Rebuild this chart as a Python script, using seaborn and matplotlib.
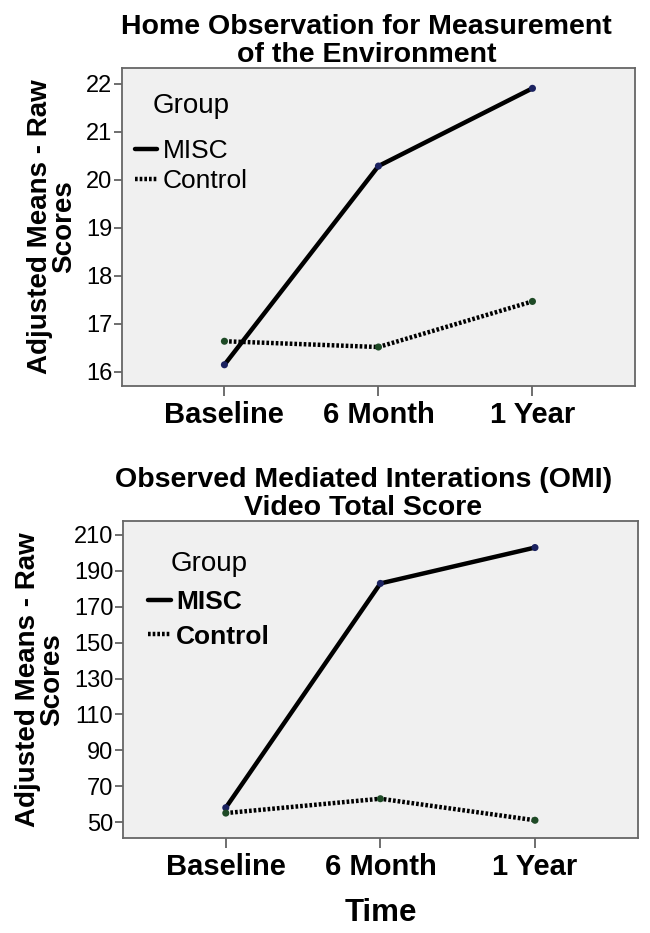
import pandas as pd
import matplotlib
matplotlib.use("Agg")
import matplotlib.pyplot as plt
import seaborn as sns

# ==========================================
#   DATA
# ==========================================
time_points = ["Baseline", "6 Month", "1 Year"]
groups = ["MISC", "Control"]

home_misc = [16.15, 20.29, 21.91]
home_control = [16.64, 16.52, 17.47]

omi_misc = [58, 183, 203]
omi_control = [55, 63, 51]

home_title = "Home Observation for Measurement\nof the Environment"
omi_title = "Observed Mediated Interations (OMI)\nVideo Total Score"
home_yticks = [16, 17, 18, 19, 20, 21, 22]
omi_yticks = [50, 70, 90, 110, 130, 150, 170, 190, 210]

# ==========================================
#   STYLE
# ==========================================
sns.set_style("ticks")
plt.rcParams["font.family"] = ["Liberation Sans", "DejaVu Sans"]
plt.rcParams["text.color"] = "black"
plt.rcParams["axes.labelcolor"] = "black"
plt.rcParams["xtick.color"] = "black"
plt.rcParams["ytick.color"] = "black"

LINE_COLORS = {"MISC": "black", "Control": "black"}
DOT_COLORS = {"MISC": "#1b2260", "Control": "#1e4a26"}
DASHES = {"MISC": "", "Control": (0.6, 0.45)}


def make_df(misc, control):
    rows = []
    for g, vals in zip(groups, [misc, control]):
        for t, v in zip(time_points, vals):
            rows.append({"Time": t, "Group": g, "Value": v})
    return pd.DataFrame(rows)


def draw_panel(ax, df, title, yticks, ylim, title_x, leg_anchor, leg_spacing,
               title_sep, bold_legend, show_xlabel):
    ax.set_facecolor("#f0f0f0")
    sns.lineplot(data=df, x="Time", y="Value", hue="Group", style="Group",
                 palette=LINE_COLORS, dashes=DASHES, linewidth=3.2,
                 sort=False, ax=ax)
    for line in ax.get_lines():
        line.set_dash_capstyle("butt")
    sns.scatterplot(data=df, x="Time", y="Value", hue="Group",
                    palette=DOT_COLORS, s=26, zorder=5, legend=False,
                    edgecolor="none", ax=ax)

    ax.set_xlim(-0.665, 2.665)
    ax.set_ylim(*ylim)
    ax.set_yticks(yticks)
    ax.set_yticklabels([str(v) for v in yticks], fontsize=17)
    ax.set_xticks(range(len(time_points)))
    ax.set_xticklabels(time_points, fontsize=21, fontweight="bold")
    ax.tick_params(axis="x", length=7, width=1.2, color="#555555", pad=4)
    ax.tick_params(axis="y", length=6, width=1.2, color="#555555", pad=1)

    for sp in ax.spines.values():
        sp.set_visible(True)
        sp.set_color("#666666")
        sp.set_linewidth(1.3)

    ax.set_title(title, fontsize=20.5, fontweight="bold", x=title_x, pad=2,
                 linespacing=1.1)
    ax.set_ylabel("Adjusted Means - Raw\nScores", fontsize=20, fontweight="bold",
                  linespacing=0.93, labelpad=6)
    if show_xlabel:
        ax.set_xlabel("Time", fontsize=22.5, fontweight="bold", labelpad=12)
    else:
        ax.set_xlabel("")

    leg = ax.legend(title="Group", loc="upper left", bbox_to_anchor=leg_anchor,
                    frameon=False, fontsize=19, title_fontsize=20,
                    handlelength=0.85, handletextpad=0.2,
                    labelspacing=leg_spacing, borderpad=0, borderaxespad=0)
    leg._legend_box.align = "center"
    leg._legend_box.sep = title_sep
    for txt in leg.get_texts():
        if bold_legend:
            txt.set_fontweight("bold")
    for line in leg.get_lines():
        line.set_linewidth(3.2)
        line.set_dash_capstyle("butt")


fig = plt.figure(figsize=(6.5, 9.33), dpi=100)
ax1 = fig.add_axes([0.1877, 0.5863, 0.789, 0.3408])
ax2 = fig.add_axes([0.1892, 0.1018, 0.792, 0.3398])

draw_panel(ax1, make_df(home_misc, home_control), home_title, home_yticks,
           (15.708, 22.333), 0.477, (0.025, 0.922), 0.24, 14.5, False, False)
draw_panel(ax2, make_df(omi_misc, omi_control), omi_title, omi_yticks,
           (41.1, 217.8), 0.467, (0.049, 0.906), 0.4, 9.5, True, True)

fig.savefig("out.png", dpi=100, facecolor="white")
plt.close(fig)
